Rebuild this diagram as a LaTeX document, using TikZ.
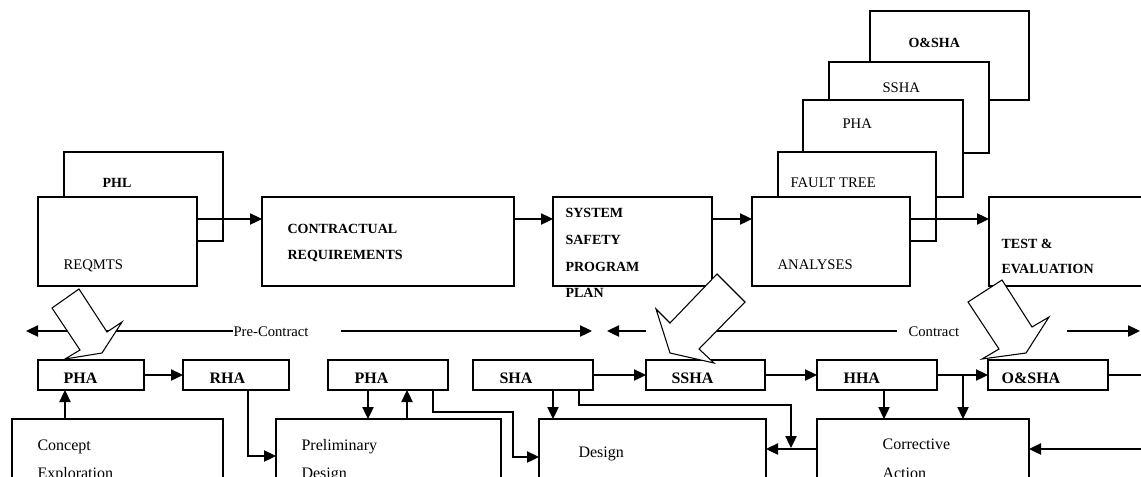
\documentclass[tikz,border=0pt]{standalone}
\usepackage{fontspec}
\setmainfont{Liberation Serif}
\usetikzlibrary{arrows.meta}
\newcommand\mybox[5]{\node[box, minimum width={0.75pt*(#4-#2)}, minimum height={0.75pt*(#5-#3)}] (#1) at (#2,#3) {};}
\begin{document}
\begin{tikzpicture}[x=0.75pt,y=-0.75pt,line width=0.85pt,
  box/.style={draw, fill=white, inner sep=0pt, outer sep=0pt, anchor=north west, line width=0.85pt},
  arr/.style={-{Triangle[length=9pt,width=8.5pt]}},
  tb/.style={anchor=base west, inner sep=0pt, font=\fontsize{10.5}{12}\selectfont\bfseries},
  tr/.style={anchor=base west, inner sep=0pt, font=\fontsize{11}{13}\selectfont},
  bb/.style={anchor=base west, inner sep=0pt, font=\fontsize{12}{14}\selectfont\bfseries},
  br/.style={anchor=base west, inner sep=0pt, font=\fontsize{12}{14}\selectfont},
  bigarrow/.style={draw, fill=white, line width=0.8pt, line join=miter}]
\useasboundingbox (0,0) rectangle (1141,476);
\clip (0,0) rectangle (1141,476);
% top row
\mybox{phl}{64}{152}{223}{241}
\mybox{reqmts}{38}{197}{197}{286}
\mybox{cr}{262}{197}{514}{286}
\mybox{sspp}{553}{197}{712}{286}
\mybox{oshat}{870}{11}{1029}{100}
\mybox{sshat}{829}{62}{989}{153}
\mybox{phat}{803}{100}{963}{197}
\mybox{ft}{778}{152}{936}{241}
\mybox{an}{752}{197}{910}{286}
\mybox{te}{989}{197}{1170}{286}
% bottom row
\mybox{pha1}{38}{360}{144}{390}
\mybox{rha}{183}{360}{289}{390}
\mybox{pha2}{328}{360}{448}{390}
\mybox{sha}{473}{360}{593}{390}
\mybox{ssha}{646}{360}{765}{390}
\mybox{hha}{817}{360}{937}{390}
\mybox{osha}{988}{360}{1108}{390}
\mybox{concept}{12}{419}{223}{520}
\mybox{prelim}{276}{419}{501}{520}
\mybox{design}{539}{419}{766}{520}
\mybox{corr}{817}{419}{1029}{520}
% texts
\node[tb] (tphl) at (102,187) {PHL};
\node[tr] (treq) at (63,269) {REQMTS};
\node[tb] (tcr1) at (287,233) {CONTRACTUAL};
\node[tb] (tcr2) at (287,259) {REQUIREMENTS};
\node[tb] (tsp1) at (565,217) {SYSTEM};
\node[tb] (tsp2) at (565,244) {SAFETY};
\node[tb] (tsp3) at (565,271) {PROGRAM};
\node[tb] (tsp4) at (565,297) {PLAN};
\node[tb] (toshat) at (908,47) {O\&SHA};
\node[tr] (tsshat) at (882,92) {SSHA};
\node[tr] (tphat) at (842,128) {PHA};
\node[tr] (tft) at (790,187) {FAULT TREE};
\node[tr] (tan) at (777,269) {ANALYSES};
\node[tb] (tte1) at (1001,248) {TEST \&};
\node[tb] (tte2) at (1001,273) {EVALUATION};
\node[tr] (tpre) at (233,336) {Pre-Contract};
\node[tr] (tcon) at (908,336) {Contract};
\node[bb] (tpha1) at (63,383) {PHA};
\node[bb] (trha) at (209,383) {RHA};
\node[bb] (tpha2) at (354,383) {PHA};
\node[bb] (tsha) at (499,383) {SHA};
\node[bb] (tssha) at (671,383) {SSHA};
\node[bb] (thha) at (843,383) {HHA};
\node[bb] (tosha) at (1001,383) {O\&SHA};
\node[br] (tc1) at (37,450) {Concept};
\node[br] (tc2) at (37,478) {Exploration};
\node[br] (tp1) at (301,450) {Preliminary};
\node[br] (tp2) at (301,478) {Design};
\node[br] (td) at (578,457) {Design};
\node[br] (tca1) at (882,449.5) {Corrective};
\node[br] (tca2) at (882,478) {Action};
% top connectors
\draw[arr] (reqmts.east |- 0,219) -- (cr.west |- 0,219);
\draw[arr] (cr.east |- 0,219) -- (sspp.west |- 0,219);
\draw[arr] (sspp.east |- 0,219) -- (an.west |- 0,219);
\draw[arr] (an.east |- 0,219) -- (te.west |- 0,219);
% timeline
\coordinate (pcl) at (26,331);
\coordinate (pcr) at (592,331);
\coordinate (ctl) at (607,331);
\coordinate (ctr) at (1140,331);
\draw[arr] (tpre.west |- pcl) -- (pcl);
\draw[arr] (341,331) -- (pcr);
\draw[arr] (646,331) -- (ctl);
\draw (712,331) -- (897,331);
\draw[arr] (1067,331) -- (ctr);
% bottom connectors
\draw[arr] (pha1) -- (rha);
\draw[arr] (concept.north -| 65,0) -- (pha1.south -| 65,0);
\draw[arr] (rha.south -| 248,0) |- (prelim.west |- 0,456);
\draw[arr] (pha2.south -| 368,0) -- (prelim.north -| 368,0);
\draw[arr] (prelim.north -| 407,0) -- (pha2.south -| 407,0);
\draw[arr] (pha2.south -| 433,0) |- (513,412) |- (design.west |- 0,457);
\draw[arr] (sha) -- (ssha);
\draw[arr] (sha.south -| 553,0) -- (design.north -| 553,0);
\coordinate (j1) at (791,448);
\draw[arr] (sha.south -| 579,0) |- (j1 |- 0,405) -- (j1);
\draw[arr] (corr.west |- 0,449) -- (design.east |- 0,449);
\draw[arr] (ssha) -- (hha);
\draw[arr] (hha.south -| 884,0) -- (corr.north -| 884,0);
\draw[arr] (hha) -- (osha);
\coordinate (j2) at (963,375);
\draw[arr] (j2) -- (corr.north -| j2);
\coordinate (rout) at (1141,375);
\draw (osha.east) -- (rout);
\coordinate (rin) at (1141,449);
\draw[arr] (rin) -- (corr.east |- rin);
% big arrows
\path[bigarrow] (79,289) -- (52,308) -- (80,350) -- (65,359) -- (102,353) -- (122,322) -- (107,332) -- cycle;
\path[bigarrow] (717,274) -- (745,302) -- (699,349) -- (714,363) -- (670,353) -- (656,309) -- (670,323) -- cycle;
\path[bigarrow] (1002,280) -- (968,302) -- (999,349) -- (982,359) -- (1026,353) -- (1049,317) -- (1032,327) -- cycle;
\end{tikzpicture}
\end{document}
